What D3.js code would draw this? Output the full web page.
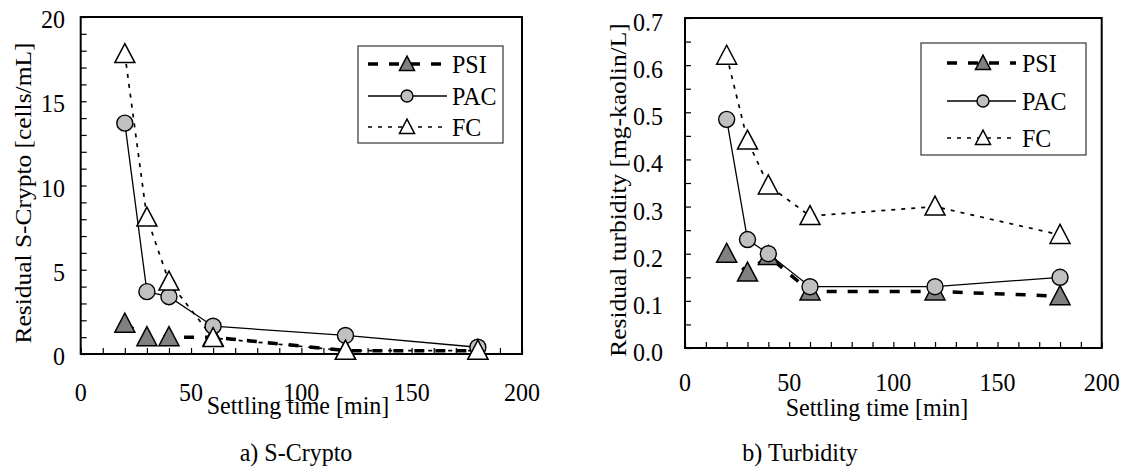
<!DOCTYPE html>
<html><head><meta charset="utf-8">
<script src="https://cdn.jsdelivr.net/npm/d3@7"></script>
<style>body{margin:0;background:#fff}svg{display:block}</style>
</head><body>
<svg id="c" width="1127" height="475"></svg>
<script>
const times = [20, 30, 40, 60, 120, 180];
const seriesNames = ["PSI", "PAC", "FC"];
// a) S-Crypto [cells/mL]
const cryptoPSI = [1.8, 1.0, 1.0, 1.0, 0.2, 0.2];
const cryptoPAC = [13.7, 3.7, 3.4, 1.65, 1.1, 0.4];
const cryptoFC  = [17.8, 8.1, 4.3, 0.95, 0.2, 0.2];
// b) Turbidity [mg-kaolin/L]
const turbPSI = [0.20, 0.16, 0.195, 0.12, 0.12, 0.11];
const turbPAC = [0.485, 0.23, 0.20, 0.13, 0.13, 0.15];
const turbFC  = [0.62, 0.44, 0.345, 0.28, 0.30, 0.24];
const xTicks = [0, 50, 100, 150, 200];
const cryptoTicks = [0, 5, 10, 15, 20];
const turbTicks = [0, 0.1, 0.2, 0.3, 0.4, 0.5, 0.6, 0.7];

const styles = {
  PSI: {fill: "#808080", dash: "10,11", width: 3.5, shape: "tri"},
  PAC: {fill: "#c0c0c0", dash: null, width: 1.3, shape: "circ"},
  FC:  {fill: "#ffffff", dash: "4,6", width: 1.7, shape: "tri"}
};
const FONT = "'Liberation Serif','Times New Roman',serif";
const FS = 24, VS = 1.06;
const svg = d3.select("#c");

function txt(g, x, y, s, anchor, rot) {
  const t = g.append("g").attr("transform",
    rot ? `translate(${x},${y}) rotate(-90) scale(${VS},1)` : `translate(${x},${y}) scale(1,${VS})`);
  t.append("text").attr("text-anchor", anchor || "middle")
    .attr("font-family", FONT).attr("font-size", FS).attr("fill", "#000").text(s);
}

function marker(g, shape, cx, cy, size, fill) {
  if (shape === "circ") {
    g.append("circle").attr("cx", cx).attr("cy", cy).attr("r", size * 0.4)
      .attr("fill", fill).attr("stroke", "#000").attr("stroke-width", 1.4);
  } else {
    const h = size * 0.95, w = size;
    g.append("path").attr("d", `M${cx},${cy - h*0.55} L${cx + w/2},${cy + h*0.45} L${cx - w/2},${cy + h*0.45} Z`)
      .attr("fill", fill).attr("stroke", "#000").attr("stroke-width", 1.5).attr("stroke-linejoin", "miter");
  }
}

function panel(cfg) {
  const g = svg.append("g");
  const x = d3.scaleLinear().domain([0, 200]).range([cfg.x0, cfg.x1]);
  const y = d3.scaleLinear().domain([0, cfg.ymax]).range([cfg.yb, cfg.yt]);
  // ticks inside
  const yAx = d3.axisRight(y).tickValues(d3.range(0, cfg.ymax + 1e-9, cfg.yminor)).tickSize(6).tickFormat("");
  g.append("g").attr("transform", `translate(${cfg.x0},0)`).call(yAx)
    .call(s => s.select(".domain").remove()).selectAll("line").attr("stroke", "#000").attr("stroke-width", 1.2);
  const xAx = d3.axisTop(x).tickValues(d3.range(0, 201, 10)).tickSize(6).tickFormat("");
  g.append("g").attr("transform", `translate(0,${cfg.yb})`).call(xAx)
    .call(s => s.select(".domain").remove()).selectAll("line").attr("stroke", "#000").attr("stroke-width", 1.2);
  // frame
  g.append("rect").attr("x", cfg.x0).attr("y", cfg.yt).attr("width", cfg.x1 - cfg.x0).attr("height", cfg.yb - cfg.yt)
    .attr("fill", "none").attr("stroke", "#000").attr("stroke-width", 2);
  // tick labels
  cfg.yticks.forEach(v => txt(g, cfg.ylabX, y(v) + cfg.ylabDy, cfg.fmt(v), "end"));
  xTicks.forEach(v => txt(g, x(v), cfg.xlabY, String(v), "middle"));
  txt(g, cfg.xtitleX, cfg.xtitleY, "Settling time [min]", "middle");
  txt(g, cfg.ytitleX, cfg.ytitleY, cfg.ytitle, "middle", true);
  txt(g, cfg.capX, 461, cfg.caption, "middle");
  // lines
  const line = d3.line().x((d, i) => x(times[i])).y(d => y(d));
  seriesNames.forEach((n, k) => {
    const st = styles[n];
    g.append("path").attr("d", line(cfg.data[k])).attr("fill", "none").attr("stroke", "#000")
      .attr("stroke-width", st.width).attr("stroke-dasharray", st.dash);
  });
  seriesNames.forEach((n, k) => {
    const st = styles[n];
    cfg.data[k].forEach((v, i) => marker(g, st.shape, x(times[i]), y(v), 20, st.fill));
  });
  // legend
  const L = cfg.leg;
  g.append("rect").attr("x", L.x0).attr("y", L.y0).attr("width", L.x1 - L.x0).attr("height", L.y1 - L.y0)
    .attr("fill", "#fff").attr("stroke", "#444").attr("stroke-width", 1.3);
  seriesNames.forEach((n, k) => {
    const st = styles[n];
    const yy = L.rows[k];
    g.append("line").attr("x1", L.lx0).attr("x2", L.lx1).attr("y1", yy).attr("y2", yy)
      .attr("stroke", "#000").attr("stroke-width", st.width).attr("stroke-dasharray", st.dash);
    marker(g, st.shape, L.mx, yy, 15, st.fill);
    txt(g, L.tx, yy + 8.5, n, "start");
  });
}

panel({
  x0: 80.7, x1: 522, yb: 354, yt: 17, ymax: 20, yminor: 1, yticks: cryptoTicks, fmt: d => String(d),
  ylabX: 65, ylabDy: 11,
  xlabY: 401, xtitleX: 298, xtitleY: 414, ytitleX: 31, ytitleY: 193, capX: 296,
  ytitle: "Residual  S-Crypto [cells/mL]", caption: "a) S-Crypto",
  data: [cryptoPSI, cryptoPAC, cryptoFC],
  leg: {x0: 358, x1: 503, y0: 46, y1: 143, rows: [64, 96, 127], lx0: 368, lx1: 447, mx: 407, tx: 452}
});
panel({
  x0: 685, x1: 1101.7, yb: 348, yt: 18, ymax: 0.7, yminor: 0.05, yticks: turbTicks, fmt: d3.format(".1f"),
  ylabX: 663, ylabDy: 13,
  xlabY: 391, xtitleX: 877, xtitleY: 416, ytitleX: 626, ytitleY: 190, capX: 800,
  ytitle: "Residual turbidity [mg-kaolin/L]", caption: "b) Turbidity",
  data: [turbPSI, turbPAC, turbFC],
  leg: {x0: 921, x1: 1086, y0: 43, y1: 155, rows: [63, 101, 138], lx0: 947, lx1: 1016, mx: 983, tx: 1022}
});
</script>
</body></html>
